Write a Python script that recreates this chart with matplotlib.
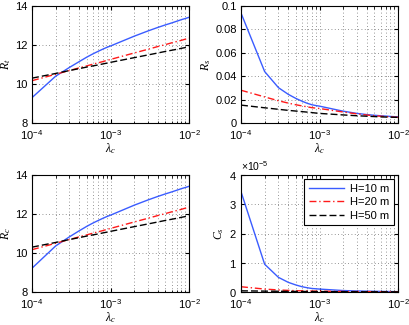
import matplotlib
matplotlib.use("Agg")
import matplotlib.pyplot as plt
from matplotlib.ticker import LogLocator, ScalarFormatter, NullFormatter

plt.rcParams['font.family'] = ['Liberation Sans', 'DejaVu Sans']
plt.rcParams['mathtext.fontset'] = 'custom'
plt.rcParams['mathtext.rm'] = 'Liberation Sans'
plt.rcParams['mathtext.it'] = 'Liberation Serif:italic'
plt.rcParams['mathtext.bf'] = 'Liberation Sans:bold'

lam = [1e-4, 2e-4, 3e-4, 4e-4, 5e-4, 6e-4, 7e-4, 8e-4, 9e-4,
       1e-3, 2e-3, 3e-3, 4e-3, 5e-3, 6e-3, 7e-3, 8e-3, 9e-3, 1e-2]

Rt_10 = [9.30, 10.40, 10.85, 11.15, 11.38, 11.55, 11.68, 11.79, 11.88, 11.95,
         12.45, 12.72, 12.90, 13.03, 13.13, 13.22, 13.30, 13.36, 13.42]
Rt_20 = [10.17, 10.50, 10.69, 10.83, 10.93, 11.02, 11.09, 11.15, 11.21, 11.26,
         11.59, 11.78, 11.92, 12.02, 12.11, 12.18, 12.24, 12.30, 12.35]
Rt_50 = [10.30, 10.54, 10.69, 10.79, 10.87, 10.93, 10.98, 11.03, 11.07, 11.11,
         11.35, 11.49, 11.59, 11.67, 11.73, 11.78, 11.83, 11.87, 11.92]

Rs_10 = [0.094, 0.044, 0.0302, 0.0245, 0.0210, 0.0186, 0.0168, 0.0156, 0.0149, 0.0144,
         0.0101, 0.0082, 0.0072, 0.0066, 0.0062, 0.0059, 0.0056, 0.0054, 0.0053]
Rs_20 = [0.028, 0.0223, 0.0190, 0.0170, 0.0156, 0.0146, 0.0138, 0.0131, 0.0127, 0.0124,
         0.0094, 0.0078, 0.0068, 0.0062, 0.0058, 0.0055, 0.0052, 0.0050, 0.0048]
Rs_50 = [0.0153, 0.0130, 0.0117, 0.0108, 0.0102, 0.0097, 0.0093, 0.0089, 0.0085, 0.0082,
         0.0069, 0.0062, 0.0058, 0.0055, 0.0052, 0.0051, 0.0050, 0.0049, 0.0048]

Rc_10 = [9.22, 10.36, 10.83, 11.14, 11.37, 11.54, 11.67, 11.78, 11.87, 11.94,
         12.45, 12.72, 12.90, 13.03, 13.13, 13.22, 13.30, 13.36, 13.42]
Rc_20 = Rt_20
Rc_50 = Rt_50

Cs_10 = [3.43e-5, 0.95e-5, 0.50e-5, 0.33e-5, 0.24e-5, 0.18e-5, 0.145e-5, 0.12e-5, 0.11e-5, 0.10e-5,
         0.05e-5, 0.035e-5, 0.028e-5, 0.023e-5, 0.02e-5, 0.017e-5, 0.015e-5, 0.013e-5, 0.012e-5]
Cs_20 = [0.18e-5, 0.10e-5, 0.07e-5, 0.055e-5, 0.045e-5, 0.04e-5, 0.035e-5, 0.032e-5, 0.03e-5, 0.028e-5,
         0.018e-5, 0.014e-5, 0.012e-5, 0.010e-5, 0.009e-5, 0.008e-5, 0.008e-5, 0.007e-5, 0.007e-5]
Cs_50 = [0.04e-5, 0.03e-5, 0.025e-5, 0.022e-5, 0.02e-5, 0.018e-5, 0.017e-5, 0.016e-5, 0.015e-5, 0.014e-5,
         0.010e-5, 0.008e-5, 0.007e-5, 0.006e-5, 0.006e-5, 0.005e-5, 0.005e-5, 0.005e-5, 0.005e-5]

labels = ['H=10 m', 'H=20 m', 'H=50 m']
xticks = [1e-4, 1e-3, 1e-2]
xticklabels = [r'$\mathdefault{10^{-4}}$', r'$\mathdefault{10^{-3}}$', r'$\mathdefault{10^{-2}}$']

blue = '#3a5cff'
red = '#ff1a1a'
black = '#000000'
FS = 8.0

fig = plt.figure(figsize=(4.09, 3.25), dpi=100)
W, H = 409, 325

def make_ax(l, t, r, b):
    return fig.add_axes([l / W, 1 - b / H, (r - l) / W, (b - t) / H])

axes = [make_ax(32, 6, 189, 123), make_ax(241, 6, 398, 123),
        make_ax(32, 175, 189, 292), make_ax(241, 175, 398, 292)]

data = [(Rt_10, Rt_20, Rt_50, r'$R_t$', (8, 14), [8, 10, 12, 14]),
        (Rs_10, Rs_20, Rs_50, r'$R_s$', (0, 0.1), [0, 0.02, 0.04, 0.06, 0.08, 0.1]),
        (Rc_10, Rc_20, Rc_50, r'$R_c$', (8, 14), [8, 10, 12, 14]),
        (Cs_10, Cs_20, Cs_50, r'$C_s$', (0, 4e-5), [0, 1e-5, 2e-5, 3e-5, 4e-5])]

gstyle = dict(ls=(0, (1, 3)), color='0.45', lw=0.6)

for ax, (y1, y2, y3, yl, ylim, yt) in zip(axes, data):
    ax.plot(lam, y1, color=blue, lw=1.0, ls='-', label=labels[0])
    ax.plot(lam, y2, color=red, lw=1.0, ls=(0, (5, 2, 1, 2)), label=labels[1])
    ax.plot(lam, y3, color=black, lw=1.0, ls=(0, (5, 2.2)), label=labels[2])
    ax.set_xscale('log')
    ax.set_xlim(1e-4, 1e-2)
    ax.set_ylim(*ylim)
    ax.set_xticks(xticks)
    ax.set_xticklabels(xticklabels)
    ax.xaxis.set_minor_locator(LogLocator(base=10, subs=range(2, 10)))
    ax.xaxis.set_minor_formatter(NullFormatter())
    ax.set_yticks(yt)
    ax.grid(True, which='major', axis='both', **gstyle)
    ax.grid(True, which='minor', axis='x', **gstyle)
    ax.tick_params(which='both', direction='in', top=True, right=True, labelsize=FS)
    ax.tick_params(axis='x', pad=4)
    ax.tick_params(axis='y', pad=3)
    ax.tick_params(which='major', length=3)
    ax.tick_params(which='minor', length=1.8)
    ax.set_xlabel(r'$\lambda_c$', fontsize=FS + 0.5, va='top')
    ax.xaxis.set_label_coords(0.5, -0.155)
    ax.set_ylabel(yl, fontsize=FS + 0.5, labelpad=2)
    for s in ax.spines.values():
        s.set_linewidth(0.8)

axes[1].set_yticklabels(['0', '0.02', '0.04', '0.06', '0.08', '0.1'])
sf = ScalarFormatter(useMathText=True)
sf.set_powerlimits((0, 0))
axes[3].yaxis.set_major_formatter(sf)
axes[3].yaxis.get_offset_text().set_fontsize(FS - 0.5)

leg = axes[3].legend(loc='upper right', fontsize=FS, fancybox=False, framealpha=1,
                     edgecolor='black', handlelength=3.2, borderaxespad=0.4,
                     borderpad=0.4, labelspacing=0.3, handletextpad=0.5)
leg.get_frame().set_linewidth(0.8)

fig.savefig('out.png', dpi=100)
